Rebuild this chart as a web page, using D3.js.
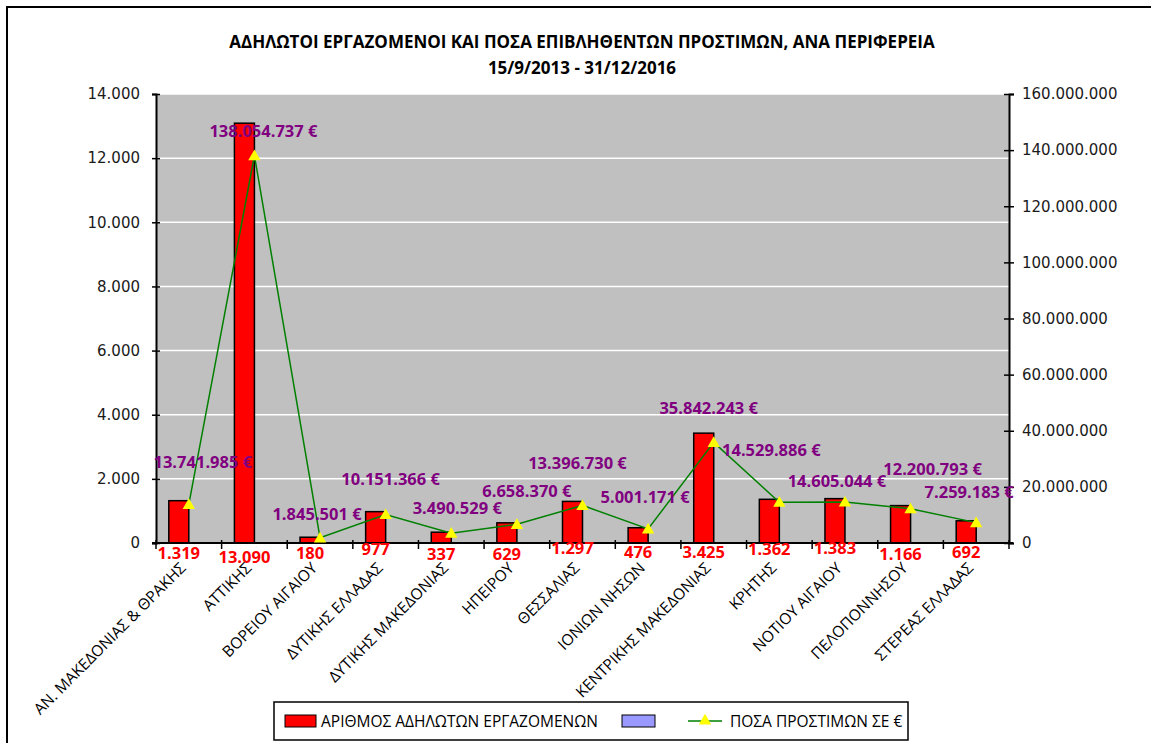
<!DOCTYPE html>
<html>
<head>
<meta charset="utf-8">
<script src="https://cdn.jsdelivr.net/npm/d3@7"></script>
<style>
	body { margin: 0; background: #fff; }
	svg { display: block; }
	.tick-label { font-family: "DejaVu Sans", sans-serif; font-size: 15px; fill: #1a1a1a; }
	.cat-label { font-family: "Open Sans", sans-serif; font-size: 15.5px; fill: #000; }
	.title { font-family: "Open Sans", sans-serif; font-weight: bold; font-size: 17px; fill: #000; }
	.value-label { font-family: "Open Sans", sans-serif; font-weight: bold; font-size: 16.5px; }
	.legend-text { font-family: "Open Sans", sans-serif; font-size: 15.5px; fill: #000; }
</style>
</head>
<body>
<div id="chart"></div>
<script>

///////////////////////////////////////////////////////////////////////////
///////////////////////////////// Data ////////////////////////////////////
///////////////////////////////////////////////////////////////////////////

var regions = ["ΑΝ. ΜΑΚΕΔΟΝΙΑΣ & ΘΡΑΚΗΣ", "ΑΤΤΙΚΗΣ", "ΒΟΡΕΙΟΥ ΑΙΓΑΙΟΥ", "ΔΥΤΙΚΗΣ ΕΛΛΑΔΑΣ",
	"ΔΥΤΙΚΗΣ ΜΑΚΕΔΟΝΙΑΣ", "ΗΠΕΙΡΟΥ", "ΘΕΣΣΑΛΙΑΣ", "ΙΟΝΙΩΝ ΝΗΣΩΝ", "ΚΕΝΤΡΙΚΗΣ ΜΑΚΕΔΟΝΙΑΣ",
	"ΚΡΗΤΗΣ", "ΝΟΤΙΟΥ ΑΙΓΑΙΟΥ", "ΠΕΛΟΠΟΝΝΗΣΟΥ", "ΣΤΕΡΕΑΣ ΕΛΛΑΔΑΣ"];

var workers = [1319, 13090, 180, 977, 337, 629, 1297, 476, 3425, 1362, 1383, 1166, 692];

var fines = [13741985, 138054737, 1845501, 10151366, 3490529, 6658370, 13396730,
	5001171, 35842243, 14529886, 14605044, 12200793, 7259183];

var leftTicks = [0, 2000, 4000, 6000, 8000, 10000, 12000, 14000];
var rightTicks = [0, 20000000, 40000000, 60000000, 80000000, 100000000, 120000000, 140000000, 160000000];

var titleLines = ["ΑΔΗΛΩΤΟΙ ΕΡΓΑΖΟΜΕΝΟΙ ΚΑΙ ΠΟΣΑ ΕΠΙΒΛΗΘΕΝΤΩΝ ΠΡΟΣΤΙΜΩΝ, ΑΝΑ ΠΕΡΙΦΕΡΕΙΑ", "15/9/2013 - 31/12/2016"];
var legendLabels = ["ΑΡΙΘΜΟΣ ΑΔΗΛΩΤΩΝ ΕΡΓΑΖΟΜΕΝΩΝ", "", "ΠΟΣΑ ΠΡΟΣΤΙΜΩΝ ΣΕ €"];

//Hand placed label nudges (as in the original sheet), in pixels
var fineLabelNudge = [[14,-42],[9,-25],[-3,-24],[5,-36],[6,-25],[10,-33],[-5,-42],[-3,-32],[-5,-34],[-8,-52],[-8,-21],[22,-40],[-7,-31]];
var workerLabelNudge = [0,4,0,-4,1,1,-5,-1,-1,-4,-5,1,-1];

///////////////////////////////////////////////////////////////////////////
//////////////////// Set up and initiate svg containers ///////////////////
///////////////////////////////////////////////////////////////////////////

var W = 1151, H = 743;
var plot = { left: 156, right: 1009, top: 94, bottom: 543 };

var gr = d3.formatLocale({ decimal: ",", thousands: ".", grouping: [3], currency: ["", " €"] });
var fmt = gr.format(",.0f");
var fmtEuro = gr.format("$,.0f");

var svg = d3.select("#chart").append("svg")
	.attr("width", W)
	.attr("height", H);

svg.append("rect").attr("width", W).attr("height", H).style("fill", "#fff");

//Outer chart frame (only top and left edges fall inside the picture)
svg.append("rect")
	.attr("x", 7).attr("y", 7)
	.attr("width", W + 20).attr("height", H + 20)
	.style("fill", "none")
	.style("stroke", "#000")
	.style("stroke-width", 2);

///////////////////////////////////////////////////////////////////////////
//////////////////////////////// Scales ///////////////////////////////////
///////////////////////////////////////////////////////////////////////////

var x = d3.scaleBand().domain(regions).range([plot.left, plot.right]).paddingInner(0).paddingOuter(0);
var xSub = d3.scaleBand().domain(["workers", "blank"]).range([0, x.bandwidth()]).paddingInner(0).paddingOuter(0.64);
var yLeft = d3.scaleLinear().domain([0, 14000]).range([plot.bottom, plot.top]);
var yRight = d3.scaleLinear().domain([0, 160000000]).range([plot.bottom, plot.top]);

///////////////////////////////////////////////////////////////////////////
////////////////////////////// Title //////////////////////////////////////
///////////////////////////////////////////////////////////////////////////

svg.selectAll(".title")
	.data(titleLines)
	.enter().append("text")
	.attr("class", "title")
	.attr("x", 582)
	.attr("y", function(d, i) { return 48 + i * 26; })
	.style("text-anchor", "middle")
	.text(function(d) { return d; });

///////////////////////////////////////////////////////////////////////////
///////////////////////////// Plot area ///////////////////////////////////
///////////////////////////////////////////////////////////////////////////

svg.append("rect")
	.attr("x", plot.left).attr("y", plot.top)
	.attr("width", plot.right - plot.left).attr("height", plot.bottom - plot.top)
	.style("fill", "#C0C0C0");

//White gridlines on the left axis ticks
svg.append("g")
	.selectAll("line")
	.data(leftTicks.filter(function(d) { return d > 0; }))
	.enter().append("line")
	.attr("x1", plot.left).attr("x2", plot.right)
	.attr("y1", function(d) { return yLeft(d); })
	.attr("y2", function(d) { return yLeft(d); })
	.style("stroke", "#fff")
	.style("stroke-width", 1.5);

//Bars
svg.append("g")
	.selectAll("rect")
	.data(workers)
	.enter().append("rect")
	.attr("x", function(d, i) { return x(regions[i]) + xSub("workers"); })
	.attr("y", function(d) { return yLeft(d); })
	.attr("width", xSub.bandwidth())
	.attr("height", function(d) { return yLeft(0) - yLeft(d); })
	.style("fill", "#FF0000")
	.style("stroke", "#000")
	.style("stroke-width", 1.5);

///////////////////////////////////////////////////////////////////////////
//////////////////////////////// Axes /////////////////////////////////////
///////////////////////////////////////////////////////////////////////////

var leftAxis = svg.append("g")
	.attr("transform", "translate(" + plot.left + ",0)")
	.call(d3.axisLeft(yLeft).tickValues(leftTicks).tickFormat(fmt).tickSizeOuter(0).tickSize(4).tickPadding(12));

var rightAxis = svg.append("g")
	.attr("transform", "translate(" + plot.right + ",0)")
	.call(d3.axisRight(yRight).tickValues(rightTicks).tickFormat(fmt).tickSizeOuter(0).tickSize(5).tickPadding(8));

[leftAxis, rightAxis].forEach(function(a) {
	a.select(".domain").style("stroke", "#000").style("stroke-width", 2);
	a.selectAll(".tick line").style("stroke", "#000").style("stroke-width", 1.5);
	a.selectAll(".tick text").attr("class", "tick-label").attr("font-family", null).attr("font-size", null);
});
//Cross ticks
leftAxis.selectAll(".tick line").attr("x1", 4);
rightAxis.selectAll(".tick line").attr("x1", -5);

//Category axis
svg.append("line")
	.attr("x1", plot.left - 4).attr("x2", plot.right + 4)
	.attr("y1", plot.bottom).attr("y2", plot.bottom)
	.style("stroke", "#000").style("stroke-width", 2);

svg.append("g")
	.selectAll("line")
	.data(regions.concat(["_end"]))
	.enter().append("line")
	.attr("x1", function(d, i) { return i < regions.length ? x(d) : plot.right; })
	.attr("x2", function(d, i) { return i < regions.length ? x(d) : plot.right; })
	.attr("y1", plot.bottom - 3).attr("y2", plot.bottom + 6)
	.style("stroke", "#000").style("stroke-width", 1.5);

svg.append("g")
	.selectAll("text")
	.data(regions)
	.enter().append("text")
	.attr("class", "cat-label")
	.attr("transform", function(d) { return "translate(" + (x(d) + x.bandwidth() / 2 - 2) + "," + 569 + ") rotate(-45)"; })
	.style("text-anchor", "end")
	.text(function(d) { return d; });

///////////////////////////////////////////////////////////////////////////
//////////////////////////// Fines line ///////////////////////////////////
///////////////////////////////////////////////////////////////////////////

var cx = function(i) { return x(regions[i]) + x.bandwidth() / 2; };

var line = d3.line()
	.x(function(d, i) { return cx(i); })
	.y(function(d) { return yRight(d); });

svg.append("path")
	.datum(fines)
	.attr("d", line)
	.style("fill", "none")
	.style("stroke", "#008000")
	.style("stroke-width", 1.5);

var tri = d3.symbol().type(d3.symbolTriangle).size(66);

svg.append("g")
	.selectAll("path")
	.data(fines)
	.enter().append("path")
	.attr("d", tri)
	.attr("transform", function(d, i) { return "translate(" + cx(i) + "," + (yRight(d) + 1) + ")"; })
	.style("fill", "#FFFF00");

///////////////////////////////////////////////////////////////////////////
//////////////////////////// Data labels //////////////////////////////////
///////////////////////////////////////////////////////////////////////////

svg.append("g")
	.selectAll("text")
	.data(workers)
	.enter().append("text")
	.attr("class", "value-label")
	.attr("x", function(d, i) { return x(regions[i]) + xSub("workers") + xSub.bandwidth() / 2; })
	.attr("y", function(d, i) { return 559 + workerLabelNudge[i]; })
	.style("text-anchor", "middle")
	.style("fill", "#FF0000")
	.text(function(d) { return fmt(d); });

svg.append("g")
	.selectAll("text")
	.data(fines)
	.enter().append("text")
	.attr("class", "value-label")
	.attr("x", function(d, i) { return cx(i) + fineLabelNudge[i][0]; })
	.attr("y", function(d, i) { return yRight(d) + fineLabelNudge[i][1] + 6; })
	.style("text-anchor", "middle")
	.style("fill", "#800080")
	.text(function(d) { return fmtEuro(d); });

///////////////////////////////////////////////////////////////////////////
/////////////////////////////// Legend ////////////////////////////////////
///////////////////////////////////////////////////////////////////////////

var legend = svg.append("g").attr("class", "legend");

legend.append("rect")
	.attr("x", 274).attr("y", 702)
	.attr("width", 634).attr("height", 38)
	.style("fill", "#fff")
	.style("stroke", "#000")
	.style("stroke-width", 1.5);

legend.append("rect")
	.attr("x", 285).attr("y", 715).attr("width", 31).attr("height", 12)
	.style("fill", "#FF0000").style("stroke", "#000").style("stroke-width", 1);
legend.append("text")
	.attr("class", "legend-text")
	.attr("x", 321).attr("y", 727)
	.text(legendLabels[0]);

legend.append("rect")
	.attr("x", 622).attr("y", 715).attr("width", 33).attr("height", 12)
	.style("fill", "#9999FF").style("stroke", "#000").style("stroke-width", 1);

legend.append("line")
	.attr("x1", 688).attr("x2", 722).attr("y1", 721).attr("y2", 721)
	.style("stroke", "#008000").style("stroke-width", 1.5);
legend.append("path")
	.attr("d", tri)
	.attr("transform", "translate(705,721)")
	.style("fill", "#FFFF00");
legend.append("text")
	.attr("class", "legend-text")
	.attr("x", 730).attr("y", 727)
	.text(legendLabels[2]);

</script>
</body>
</html>
